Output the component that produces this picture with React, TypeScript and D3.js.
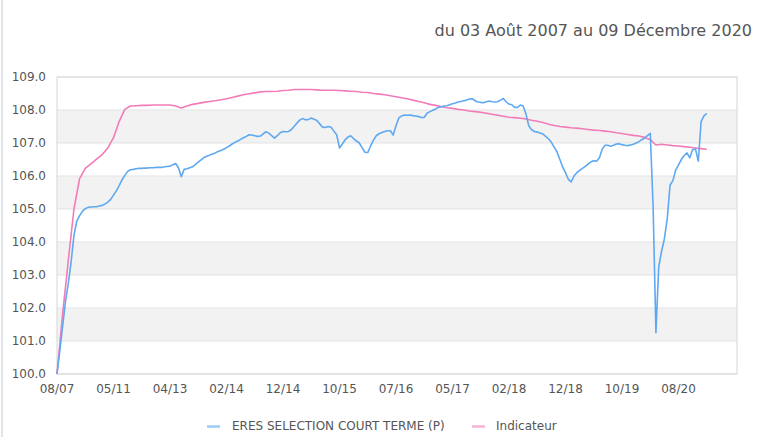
import React from "react";
import * as d3 from "d3";

const title = "du 03 Août 2007 au 09 Décembre 2020";
const seriesNames = ["ERES SELECTION COURT TERME (P)", "Indicateur"];
const xTickLabels = ["08/07", "05/11", "04/13", "02/14", "12/14", "10/15", "07/16", "05/17", "02/18", "12/18", "10/19", "08/20"];
const yTicks = [100, 101, 102, 103, 104, 105, 106, 107, 108, 109];

// Fund values, one point per observation index (20 observations per x tick interval)
const fundValues = [
  100.0, 100.71, 101.46, 102.19, 102.75, 103.4, 104.2, 104.63, 104.8, 104.93,
  105.01, 105.05, 105.06, 105.07, 105.07, 105.09, 105.11, 105.15, 105.21, 105.29,
  105.42, 105.55, 105.71, 105.88, 106.02, 106.14, 106.19, 106.2, 106.22, 106.23,
  106.23, 106.24, 106.24, 106.25, 106.25, 106.26, 106.26, 106.26, 106.28, 106.29,
  106.3, 106.34, 106.38, 106.25, 105.98, 106.2, 106.22, 106.25, 106.28, 106.35,
  106.42, 106.49, 106.56, 106.6, 106.63, 106.67, 106.7, 106.74, 106.77, 106.81,
  106.86, 106.91, 106.97, 107.02, 107.06, 107.11, 107.16, 107.2, 107.25, 107.24,
  107.22, 107.2, 107.21, 107.28, 107.34, 107.3, 107.22, 107.15, 107.22, 107.31,
  107.35, 107.34, 107.35, 107.41, 107.51, 107.61, 107.7, 107.74, 107.7, 107.71,
  107.76, 107.72, 107.68, 107.58, 107.48, 107.47, 107.5, 107.48, 107.36, 107.25,
  106.85, 106.97, 107.1, 107.18, 107.22, 107.13, 107.06, 107.0, 106.86, 106.72,
  106.71, 106.91, 107.08, 107.22, 107.28, 107.32, 107.35, 107.37, 107.37, 107.24,
  107.52, 107.76, 107.82, 107.85, 107.84, 107.85, 107.83, 107.82, 107.8, 107.77,
  107.78, 107.9, 107.95, 107.99, 108.03, 108.08, 108.1, 108.12, 108.13, 108.16,
  108.19, 108.21, 108.24, 108.26, 108.28, 108.3, 108.33, 108.34, 108.28, 108.24,
  108.23, 108.22, 108.25, 108.27, 108.25, 108.24, 108.25, 108.3, 108.35, 108.25,
  108.18, 108.16, 108.08, 108.08, 108.15, 108.12, 107.88, 107.52, 107.4, 107.35,
  107.33, 107.3, 107.27, 107.2, 107.12, 107.02, 106.87, 106.73, 106.5, 106.27,
  106.1, 105.9, 105.82, 106.0, 106.1, 106.17, 106.23, 106.29, 106.36, 106.43,
  106.46, 106.45, 106.55, 106.82, 106.93, 106.93, 106.9, 106.93, 106.97, 106.98,
  106.95, 106.93, 106.92, 106.94, 106.96, 107.0, 107.04, 107.1, 107.15, 107.22,
  107.29, 105.1, 101.25, 103.25, 103.72, 104.1, 104.7, 105.72, 105.86, 106.18,
  106.34, 106.5, 106.62, 106.7, 106.55, 106.8, 106.82, 106.45, 107.65, 107.82,
  107.9,
];

// Benchmark values, one point every 2 observation indices
const benchmarkStep = 2;
const benchmarkValues = [
  100.0, 101.83, 103.44, 105.0, 105.92, 106.23, 106.37, 106.51, 106.65, 106.85,
  107.16, 107.65, 108.02, 108.12, 108.13, 108.14, 108.14, 108.15, 108.15, 108.15,
  108.15, 108.12, 108.06, 108.12, 108.17, 108.2, 108.23, 108.26, 108.28, 108.31,
  108.34, 108.38, 108.42, 108.46, 108.49, 108.52, 108.55, 108.56, 108.56, 108.57,
  108.59, 108.6, 108.62, 108.62, 108.62, 108.62, 108.61, 108.6, 108.6, 108.6,
  108.59, 108.58, 108.57, 108.56, 108.54, 108.53, 108.5, 108.48, 108.46, 108.43,
  108.4, 108.37, 108.34, 108.3, 108.26, 108.22, 108.17, 108.14, 108.1, 108.07,
  108.05, 108.02, 108.0, 107.97, 107.95, 107.93, 107.9, 107.87, 107.84, 107.81,
  107.78, 107.77, 107.75, 107.73, 107.69, 107.66, 107.62, 107.57, 107.53, 107.5,
  107.48, 107.46, 107.45, 107.43, 107.41, 107.39, 107.38, 107.36, 107.34, 107.31,
  107.29, 107.26, 107.23, 107.21, 107.17, 107.1, 106.94, 106.96, 106.94, 106.92,
  106.91, 106.89, 106.87, 106.85, 106.83, 106.81,
];

const obsPerTick = 20;
const xDomainMax = 240.7;

const W = 768;
const H = 437;
const M = { left: 57, right: 737, top: 77, bottom: 374 };
const FONT = "'DejaVu Sans', sans-serif";
const BLUE = "#5fa8f2";
const PINK = "#f27cb8";
const TEXT = "#555555";

export default function App() {
  const x = d3.scaleLinear().domain([0, xDomainMax]).range([M.left, M.right]);
  const y = d3.scaleLinear().domain([100, 109]).range([M.bottom, M.top]);

  const line = d3
    .line<[number, number]>()
    .x((d) => x(d[0]))
    .y((d) => y(d[1]));

  const fundPts: [number, number][] = fundValues.map((v, i) => [i, v]);
  const benchPts: [number, number][] = benchmarkValues.map((v, j) => [j * benchmarkStep, v]);

  const bands = yTicks.filter((t) => t < 109 && t % 2 === 1);

  return (
    <div style={{ position: "absolute", left: 0, top: 0 }}>
      <svg width={W} height={H} style={{ display: "block", background: "#fff" }}>
        <line x1={2} x2={2} y1={0} y2={H} stroke="#d5dde3" strokeWidth={1.5} />
        <text x={752} y={36} textAnchor="end" fontFamily={FONT} fontSize={16} fill={TEXT}>
          {title}
        </text>
        {bands.map((b) => (
          <rect key={b} x={M.left} width={M.right - M.left} y={y(b + 1)} height={y(b) - y(b + 1)} fill="#f2f2f2" />
        ))}
        {yTicks.map((t) => (
          <g key={t}>
            <line x1={M.left} x2={M.right} y1={y(t)} y2={y(t)} stroke="#e3e3e3" strokeWidth={1} />
            <text x={46} y={y(t)} dy="0.35em" textAnchor="end" fontFamily={FONT} fontSize={12} fill={TEXT}>
              {t.toFixed(1)}
            </text>
          </g>
        ))}
        <rect x={M.left} y={M.top} width={M.right - M.left} height={M.bottom - M.top} fill="none" stroke="#dddddd" strokeWidth={1.2} />
        {xTickLabels.map((lab, k) => (
          <text key={lab} x={x(k * obsPerTick)} y={393} textAnchor="middle" fontFamily={FONT} fontSize={12} fill={TEXT}>
            {lab}
          </text>
        ))}
        <path d={line(benchPts) || ""} fill="none" stroke={PINK} strokeWidth={1.6} strokeLinejoin="round" />
        <path d={line(fundPts) || ""} fill="none" stroke={BLUE} strokeWidth={1.6} strokeLinejoin="round" />
        <g fontFamily={FONT} fontSize={12} fill={TEXT}>
          <line x1={207} x2={220} y1={426.5} y2={426.5} stroke="#9ecbf5" strokeWidth={2.5} />
          <text x={232} y={426} dy="0.35em">{seriesNames[0]}</text>
          <line x1={472} x2={485} y1={426.5} y2={426.5} stroke="#f7b3d6" strokeWidth={2.5} />
          <text x={496} y={426} dy="0.35em">{seriesNames[1]}</text>
        </g>
      </svg>
    </div>
  );
}
